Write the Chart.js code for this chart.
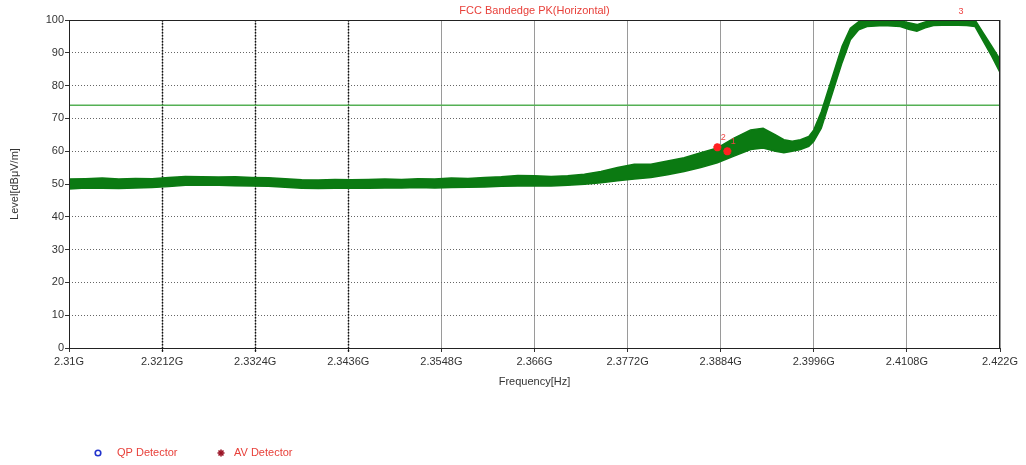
<!DOCTYPE html>
<html>
<head>
<meta charset="utf-8">
<script src="https://cdn.jsdelivr.net/npm/chart.js@4"></script>
<style>
  html, body { margin: 0; padding: 0; background: #fff; }
</style>
</head>
<body>
<canvas id="chart" width="1026" height="465"></canvas>
<script>
// trace envelope (GHz / dBuV/m)
const freqGHz = [
  2.310, 2.312, 2.314, 2.316, 2.318, 2.320, 2.322, 2.324, 2.326, 2.328,
  2.330, 2.332, 2.334, 2.336, 2.338, 2.340, 2.342, 2.344, 2.346, 2.348,
  2.350, 2.352, 2.354, 2.356, 2.358, 2.360, 2.362, 2.364, 2.366, 2.368,
  2.370, 2.372, 2.374, 2.376, 2.378, 2.380, 2.382, 2.384, 2.386, 2.388,
  2.390, 2.392, 2.3935, 2.395, 2.396, 2.397, 2.398, 2.399, 2.3996, 2.4005,
  2.401, 2.402, 2.403, 2.404, 2.405, 2.406, 2.408, 2.410, 2.411, 2.412,
  2.413, 2.414, 2.416, 2.418, 2.419, 2.420, 2.421, 2.422
];
const levelHigh = [
  51.5, 51.6, 51.8, 51.5, 51.7, 51.6, 52.0, 52.3, 52.2, 52.1,
  52.2, 52.0, 51.9, 51.6, 51.3, 51.2, 51.4, 51.3, 51.4, 51.5,
  51.4, 51.6, 51.5, 51.8, 51.7, 52.0, 52.2, 52.6, 52.5, 52.3,
  52.5, 53.0, 53.8, 55.0, 56.0, 56.0, 57.0, 58.0, 59.5, 61.0,
  64.0, 66.5, 67.0, 65.0, 63.5, 63.0, 63.5, 64.5, 66.5, 72.0,
  76.0, 84.0, 92.0, 97.5, 99.5, 100, 100, 99.8, 99.2, 98.6,
  99.4, 100, 100, 100, 100, 96.0, 92.0, 88.0
];
const levelLow = [
  48.5, 48.8, 48.7, 48.6, 48.8, 48.9, 49.2, 49.6, 49.7, 49.6,
  49.5, 49.4, 49.3, 49.0, 48.7, 48.6, 48.7, 48.8, 48.7, 48.8,
  48.8, 48.9, 48.8, 48.9, 49.0, 49.1, 49.3, 49.4, 49.5, 49.4,
  49.6, 49.9, 50.4, 51.0, 51.5, 52.0, 52.8, 53.8, 55.0, 56.5,
  58.5, 60.5, 61.0, 60.0, 59.5, 60.0, 60.5, 61.5, 63.0, 67.0,
  71.0, 79.0, 87.0, 94.0, 97.0, 98.0, 98.3, 98.0, 97.2, 96.6,
  97.6, 98.3, 98.5, 98.3, 98.0, 93.5, 89.0, 84.0
];
const limitLevel = 74;

const xTicks = [2.31, 2.3212, 2.3324, 2.3436, 2.3548, 2.366, 2.3772, 2.3884, 2.3996, 2.4108, 2.422];
const xTickLabels = ['2.31G', '2.3212G', '2.3324G', '2.3436G', '2.3548G', '2.366G', '2.3772G', '2.3884G', '2.3996G', '2.4108G', '2.422G'];
const darkGridTicks = [2.3212, 2.3324, 2.3436];
const yTicks = [0, 10, 20, 30, 40, 50, 60, 70, 80, 90, 100];

const markerFreq = [2.3880, 2.3892, 2.4166];
const markerLevel = [61.2, 60.0, 102.5];
const markerLabels = ['2', '1', '3'];
const markerShown = [true, true, false];

const titleText = 'FCC Bandedge PK(Horizontal)';
const legendLabels = ['QP Detector', 'AV Detector'];

const FONT = '"Liberation Sans", Arial, sans-serif';
const TRACE = '#0b7a12';

const extras = {
  id: 'extras',
  beforeDatasetsDraw(chart) {
    const { ctx, chartArea: a, scales: { x } } = chart;
    ctx.save();
    ctx.strokeStyle = '#111';
    ctx.lineWidth = 1.5;
    ctx.setLineDash([1.5, 1.5]);
    darkGridTicks.forEach(v => {
      const px = Math.round(x.getPixelForValue(v)) + 0.5;
      ctx.beginPath();
      ctx.moveTo(px, a.top);
      ctx.lineTo(px, a.bottom + 4);
      ctx.stroke();
    });
    ctx.restore();
  },
  afterDatasetsDraw(chart) {
    const { ctx, chartArea: a } = chart;
    ctx.save();
    ctx.strokeStyle = '#222';
    ctx.lineWidth = 1;
    ctx.strokeRect(Math.round(a.left) + 0.5, Math.round(a.top) + 0.5,
      Math.round(a.right - a.left) - 1, Math.round(a.bottom - a.top));
    ctx.restore();
  },
  afterDraw(chart) {
    const { ctx, chartArea: a, scales: { x, y } } = chart;
    ctx.save();
    ctx.font = '11px ' + FONT;
    ctx.textBaseline = 'middle';

    // title
    ctx.fillStyle = '#e8403a';
    ctx.textAlign = 'center';
    ctx.fillText(titleText, (a.left + a.right) / 2, 11);

    // marker numbers
    ctx.font = '9px ' + FONT;
    ctx.fillStyle = '#ee4444';
    markerFreq.forEach((f, i) => {
      const px = x.getPixelForValue(f);
      const py = Math.max(y.getPixelForValue(markerLevel[i]), 8);
      ctx.fillText(markerLabels[i], px + 6, markerShown[i] ? py - 10 : py);
    });

    // legend
    ctx.font = '11px ' + FONT;
    ctx.textAlign = 'left';
    const ly = 453;
    ctx.strokeStyle = '#2233cc';
    ctx.lineWidth = 1.6;
    ctx.beginPath();
    ctx.arc(98, ly, 2.8, 0, Math.PI * 2);
    ctx.stroke();
    ctx.fillStyle = '#e8403a';
    ctx.fillText(legendLabels[0], 117, ly);

    ctx.strokeStyle = '#991122';
    ctx.lineWidth = 1.6;
    for (let k = 0; k < 4; k++) {
      const ang = k * Math.PI / 4;
      ctx.beginPath();
      ctx.moveTo(221 - 3.5 * Math.cos(ang), ly - 3.5 * Math.sin(ang));
      ctx.lineTo(221 + 3.5 * Math.cos(ang), ly + 3.5 * Math.sin(ang));
      ctx.stroke();
    }
    ctx.fillText(legendLabels[1], 234, ly);
    ctx.restore();
  }
};

new Chart(document.getElementById('chart'), {
  type: 'line',
  data: {
    datasets: [
      {
        label: 'low',
        data: freqGHz.map((f, i) => ({ x: f, y: levelLow[i] })),
        borderColor: TRACE,
        borderWidth: 1.5,
        pointRadius: 0,
        fill: false,
        order: 2
      },
      {
        label: 'PK',
        data: freqGHz.map((f, i) => ({ x: f, y: levelHigh[i] })),
        borderColor: TRACE,
        backgroundColor: TRACE,
        borderWidth: 1.5,
        pointRadius: 0,
        fill: '-1',
        order: 2
      },
      {
        label: 'Limit',
        data: [{ x: xTicks[0], y: limitLevel }, { x: xTicks[xTicks.length - 1], y: limitLevel }],
        borderColor: '#55b055',
        borderWidth: 1.5,
        pointRadius: 0,
        fill: false,
        order: 3
      },
      {
        label: 'Markers',
        type: 'scatter',
        data: markerFreq.map((f, i) => ({ x: f, y: markerLevel[i] })),
        pointStyle: 'star',
        pointRadius: markerShown.map(s => s ? 4 : 0),
        borderColor: '#ff2020',
        backgroundColor: '#ff2020',
        borderWidth: 2.5,
        order: 1
      }
    ]
  },
  options: {
    responsive: false,
    animation: false,
    devicePixelRatio: 1,
    layout: { padding: { top: 20, right: 26, left: 0, bottom: 75 } },
    plugins: {
      legend: { display: false },
      tooltip: { enabled: false }
    },
    scales: {
      x: {
        type: 'linear',
        min: xTicks[0],
        max: xTicks[xTicks.length - 1],
        afterBuildTicks: scale => { scale.ticks = xTicks.map(v => ({ value: v })); },
        afterFit: scale => { scale.height = 42; },
        ticks: {
          autoSkip: false,
          maxRotation: 0,
          padding: 3,
          color: '#333',
          font: { family: FONT, size: 11 },
          callback: (value, index) => xTickLabels[index]
        },
        grid: {
          color: '#9a9a9a',
          lineWidth: 1,
          tickLength: 4,
          tickColor: '#333'
        },
        border: { display: false },
        title: {
          display: true,
          text: 'Frequency[Hz]',
          color: '#333',
          font: { family: FONT, size: 11 },
          padding: { top: 0, bottom: 1 }
        }
      },
      y: {
        min: 0,
        max: 100,
        afterBuildTicks: scale => { scale.ticks = yTicks.map(v => ({ value: v })); },
        afterFit: scale => { scale.width = 69; },
        ticks: {
          padding: 1,
          color: '#333',
          font: { family: FONT, size: 11 }
        },
        grid: {
          color: '#666',
          lineWidth: 1,
          tickLength: 4,
          tickColor: '#333'
        },
        border: { display: false, dash: [1, 2] },
        title: {
          display: true,
          text: 'Level[dBμV/m]',
          color: '#333',
          font: { family: FONT, size: 11 },
          padding: { top: 8, bottom: 0 }
        }
      }
    }
  },
  plugins: [extras]
});
</script>
</body>
</html>
